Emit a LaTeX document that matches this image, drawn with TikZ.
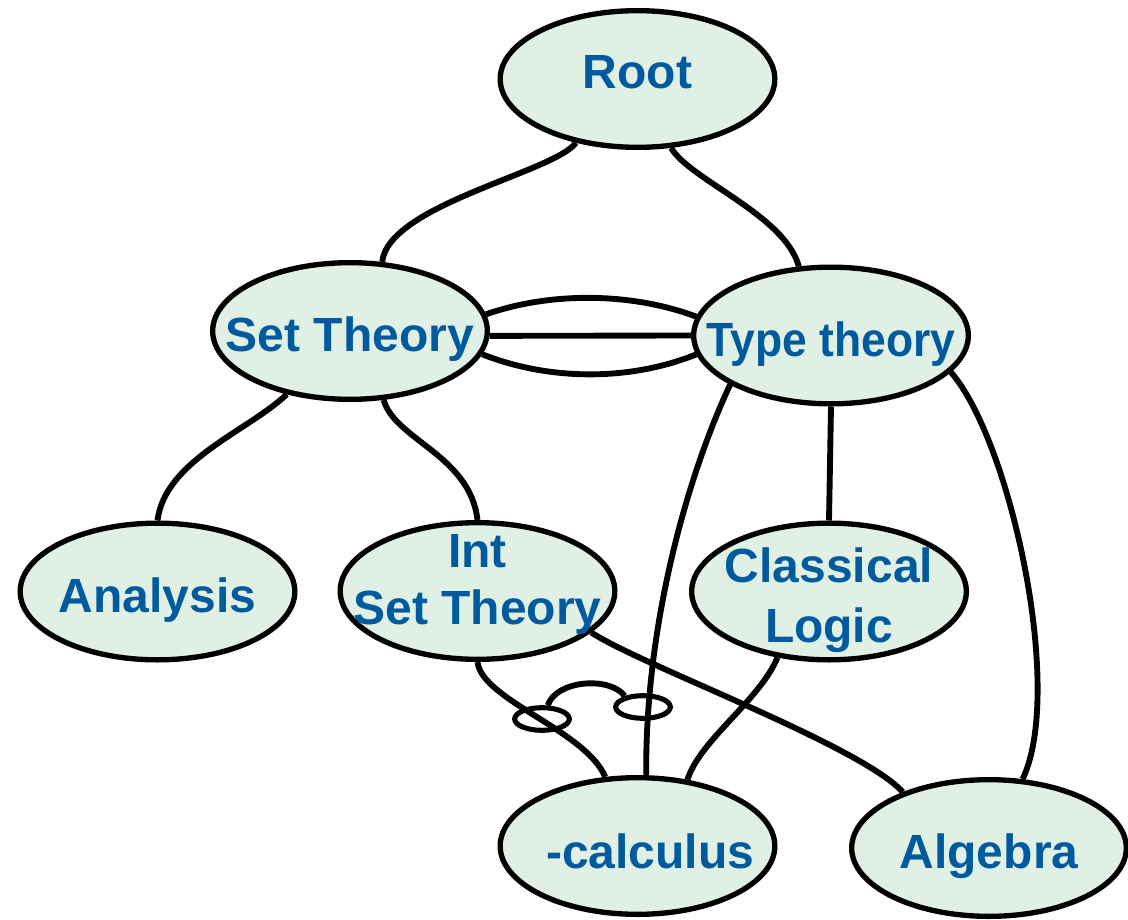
\documentclass[tikz,border=0pt]{standalone}
\usepackage{graphicx}
\usepackage{fontspec}
\setmainfont{Liberation Sans}
\usetikzlibrary{shapes.geometric}
\definecolor{topicfill}{RGB}{225,240,229}
\definecolor{topicblue}{RGB}{0,90,158}
\newcommand\topicline[2]{\makebox[0pt]{\raisebox{#1}[0pt][0pt]{#2}}}

\begin{document}
\begin{tikzpicture}[x=0.75pt, y=-0.75pt,
	topic/.style={ellipse, draw=black, line width=4pt, fill=topicfill, text=topicblue, font=\bfseries\fontsize{36}{43}\selectfont, minimum width=206pt, minimum height=102.5pt, inner sep=0pt},
	link/.style={line width=4.4pt},
	ring/.style={ellipse, draw=black, line width=3.8pt, minimum width=41pt, minimum height=17pt, inner sep=0pt}]
	\useasboundingbox (0,0) rectangle (1128,920);
	\node[topic] (root) at (637.5,79) {\topicline{-6.9pt}{Root}};
	\node[topic] (set) at (350,331) {\topicline{-15.4pt}{Set Theory}};
	\node[topic] (type) at (831,335.5) {\topicline{-15.4pt}{\scalebox{0.926}[1]{Type theory}}};
	\node[topic] (analysis) at (157.5,591.5) {\topicline{-15.4pt}{Analysis}};
	\node[topic] (int) at (477.5,591) {\topicline{18pt}{Int}\topicline{-24.75pt}{Set Theory}};
	\node[topic] (classical) at (829,591.5) {\topicline{7pt}{Classical}\topicline{-38pt}{Logic}};
	\node[topic] (lambda) at (637.5,846) {\topicline{-17pt}{\hspace*{19pt}-calculus}};
	\node[topic] (algebra) at (989,848) {\topicline{-15.4pt}{Algebra}};
	\node[ring] (ringL) at (542,719) {};
	\node[ring] (ringR) at (643,707) {};
	% links
	\draw[link] (root.-134) .. controls (555,172) and (388,205) .. (set.65);
	\draw[link] (root.-64) .. controls (690,180) and (785,215) .. (type.115);
	\draw[link] (set.-2) -- (type.west);
	\draw[link] (set.7) .. controls (550,292) and (630,292) .. (type.172);
	\draw[link] (set.-10) .. controls (550,381) and (630,381) .. (type.-172);
	\draw[link] (set.-135) .. controls (250,430) and (165,460) .. (analysis.north);
	\draw[link] (set.-64) .. controls (395,440) and (470,455) .. (int.north);
	\draw[link] (type.south) -- (classical.north);
	\draw[link] (type.-154) .. controls (690,470) and (645,620) .. (lambda.83);
	\draw[link] (type.-17) .. controls (1010,440) and (1065,690) .. (algebra.64);
	\draw[link] (classical.-128) .. controls (760,700) and (700,740) .. (lambda.53);
	\draw[link] (int.-20) .. controls (640,665) and (860,745) .. (algebra.147);
	\draw[link] (int.south) .. controls (482,700) and (585,730) .. (lambda.115);
	\draw[link] (ringL.67) .. controls (556,680) and (610,676) .. (ringR.149);
\end{tikzpicture}
\end{document}
